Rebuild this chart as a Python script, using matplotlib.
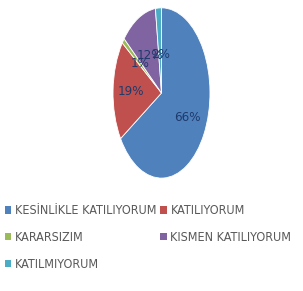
import numpy as np
import matplotlib.pyplot as plt
from matplotlib.patches import Patch
from matplotlib import font_manager

labels = ['KESİNLİKLE KATILIYORUM', 'KATILIYORUM', 'KARARSIZIM', 'KISMEN KATILIYORUM', 'KATILMIYORUM']
values = [66, 19, 1, 12, 2]
colors = ['#4F81BD', '#C0504D', '#9BBB59', '#8064A2', '#4BACC6']
# distance of each percent label from the centre (Excel style placement)
label_dist = [0.6, 0.63, 0.57, 0.5, 0.45]

names = {f.name for f in font_manager.fontManager.ttflist}
fam = 'Liberation Sans Narrow' if 'Liberation Sans Narrow' in names else 'DejaVu Sans'

fig = plt.figure(figsize=(3.03, 2.91), dpi=100)
ax = fig.add_axes([0.373, 0.388, 0.32, 0.585])

wedges, _ = ax.pie(values, colors=colors, startangle=90, counterclock=False,
                   wedgeprops=dict(linewidth=0.6, edgecolor='white'))
for w, v, d in zip(wedges, values, label_dist):
    ang = np.deg2rad((w.theta1 + w.theta2) / 2)
    ax.text(d * np.cos(ang), d * np.sin(ang), f'{v}%', ha='center', va='center',
            fontsize=9.5, color='#1F3A6B', family=fam, stretch='condensed')
ax.set_aspect('auto')
ax.set_xlim(-1, 1)
ax.set_ylim(-1, 1)

# legend, row-major order like the original
order = [0, 2, 4, 1, 3]
handles = [Patch(facecolor=colors[i], edgecolor='none') for i in order]
fig.legend(handles, [labels[i] for i in order], ncol=2, loc='upper left',
           bbox_to_anchor=(-0.02, 0.336), frameon=False, handlelength=0.5,
           handleheight=0.5, handletextpad=0.3, columnspacing=0.3,
           labelspacing=1.1, prop=dict(family=fam, size=9, stretch='condensed'),
           labelcolor='#595959')

fig.savefig('out.png', dpi=100)
